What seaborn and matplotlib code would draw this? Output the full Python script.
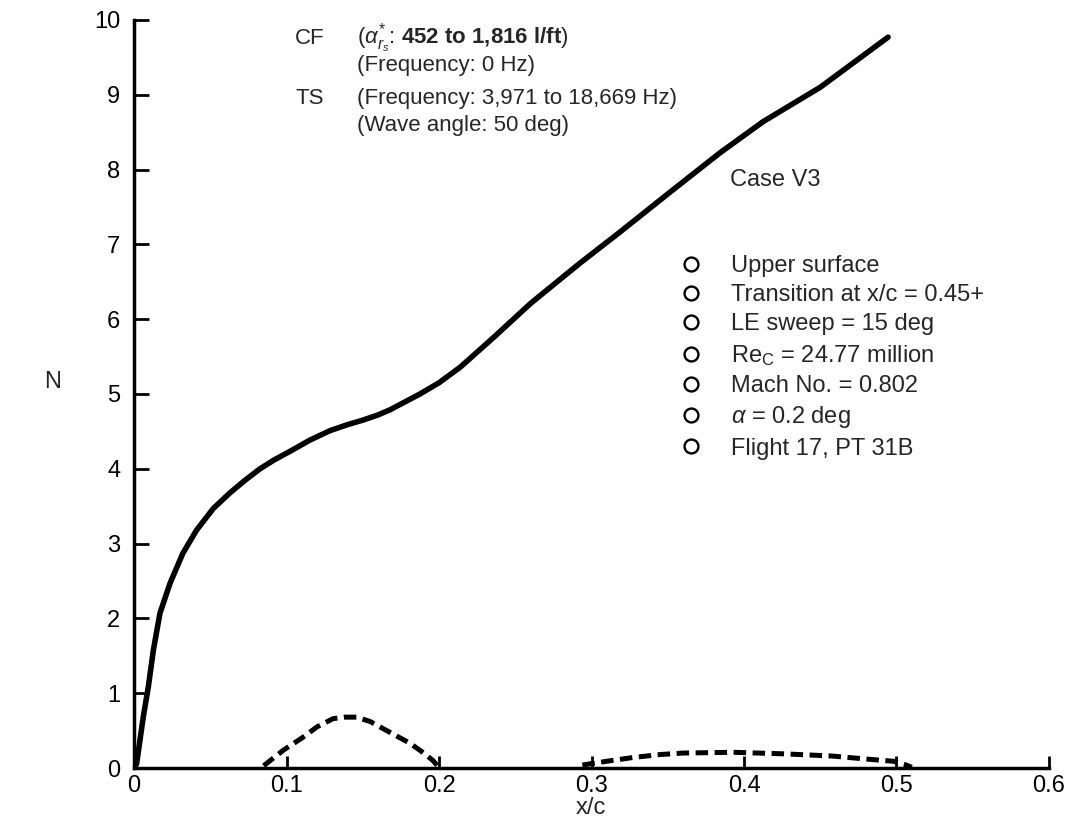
import matplotlib
matplotlib.use("Agg")
import matplotlib.pyplot as plt
from matplotlib.lines import Line2D
import seaborn as sns
import pandas as pd

# Crossflow (CF) N-factor envelope
cf_x = [0.0, 0.0017, 0.0061, 0.0094, 0.0127, 0.017, 0.0236, 0.032, 0.041, 0.052,
        0.063, 0.073, 0.0826, 0.092, 0.102, 0.115, 0.1285, 0.140, 0.150, 0.160,
        0.168, 0.181, 0.1875, 0.200, 0.214, 0.236, 0.260, 0.2925, 0.319, 0.351,
        0.384, 0.4125, 0.450, 0.4945]
cf_n = [0.0, 0.06, 0.69, 1.09, 1.58, 2.07, 2.47, 2.87, 3.18, 3.47,
        3.68, 3.85, 4.0, 4.12, 4.23, 4.38, 4.51, 4.59, 4.65, 4.72,
        4.79, 4.93, 5.0, 5.15, 5.36, 5.76, 6.21, 6.75, 7.17, 7.69,
        8.22, 8.64, 9.10, 9.77]

# Tollmien-Schlichting (TS) N-factor, first lobe
ts1_x = [0.085, 0.098, 0.110, 0.120, 0.1305, 0.138, 0.146, 0.155, 0.163, 0.172, 0.181, 0.190, 0.196, 0.199]
ts1_n = [0.03, 0.24, 0.40, 0.55, 0.66, 0.68, 0.68, 0.62, 0.53, 0.43, 0.33, 0.20, 0.10, 0.03]

# TS N-factor, second lobe
ts2_x = [0.294, 0.310, 0.327, 0.345, 0.360, 0.393, 0.4255, 0.458, 0.480, 0.498, 0.505, 0.510]
ts2_n = [0.04, 0.09, 0.14, 0.18, 0.20, 0.21, 0.19, 0.16, 0.12, 0.09, 0.05, 0.01]

x_ticks = [0, 0.1, 0.2, 0.3, 0.4, 0.5, 0.6]
x_tick_labels = ["0", "0.1", "0.2", "0.3", "0.4", "0.5", "0.6"]
y_ticks = list(range(0, 11))

case_title = "Case V3"
case_items = [
    "Upper surface",
    "Transition at x/c = 0.45+",
    "LE sweep = 15 deg",
    r"Re$_\mathregular{C}$ = 24.77 million",
    "Mach No. = 0.802",
    r"$\alpha$ = 0.2 deg",
    "Flight 17, PT 31B",
]

sns.set_style("ticks")
plt.rcParams["font.family"] = ["Liberation Sans", "DejaVu Sans"]
plt.rcParams["mathtext.fontset"] = "custom"
plt.rcParams["mathtext.rm"] = "Liberation Sans"
plt.rcParams["mathtext.it"] = "Liberation Sans:italic"
plt.rcParams["mathtext.bf"] = "Liberation Sans:bold"

fig = plt.figure(figsize=(10.75, 8.31), dpi=100)
ax = fig.add_axes([0.1247, 0.0758, 0.8511, 0.9002])

cf_df = pd.DataFrame({"x": cf_x, "N": cf_n})
ts1_df = pd.DataFrame({"x": ts1_x, "N": ts1_n})
ts2_df = pd.DataFrame({"x": ts2_x, "N": ts2_n})

sns.lineplot(data=cf_df, x="x", y="N", ax=ax, color="black", lw=4.0,
             sort=False, estimator=None, solid_joinstyle="round",
             solid_capstyle="round")
for df in (ts1_df, ts2_df):
    sns.lineplot(data=df, x="x", y="N", ax=ax, color="black", lw=3.6,
                 sort=False, estimator=None, dashes=False,
                 linestyle=(0, (2.5, 1.3)))

ax.set_xlim(0, 0.6)
ax.set_ylim(0, 10)
ax.set_xticks(x_ticks)
ax.set_xticklabels(x_tick_labels)
ax.set_yticks(y_ticks)
ax.tick_params(axis="both", direction="in", labelsize=17, width=2, colors="black")
ax.tick_params(axis="y", length=11, pad=10)
ax.tick_params(axis="x", length=9, pad=5)
for side in ("top", "right"):
    ax.spines[side].set_visible(False)
for side in ("left", "bottom"):
    ax.spines[side].set_linewidth(2.5)
    ax.spines[side].set_color("black")

ax.set_xlabel("x/c", fontsize=17, va="center")
ax.set_ylabel("N", fontsize=17, rotation=0, va="center", ha="center")
ax.xaxis.set_label_coords(0.4995, -0.0535)
ax.yaxis.set_label_coords(-0.0896, 0.516)

# Disturbance descriptions
fs_top = 16
col_a, col_b = 0.1056, 0.146
ax.text(col_a, 9.68, "CF", fontsize=fs_top, va="baseline")
ax.text(col_b, 9.68, r"($\alpha^{*}_{r_s}$: $\mathbf{452\ to\ 1{,}816\ l/ft}$)",
        fontsize=fs_top, va="baseline")
ax.text(col_b, 9.32, "(Frequency: 0 Hz)", fontsize=fs_top, va="baseline")
ax.text(col_a, 8.88, "TS", fontsize=fs_top, va="baseline")
ax.text(col_b, 8.88, "(Frequency: 3,971 to 18,669 Hz)", fontsize=fs_top, va="baseline")
ax.text(col_b, 8.52, "(Wave angle: 50 deg)", fontsize=fs_top, va="baseline")

fs_case = 17
ax.text(0.391, 7.86, case_title, fontsize=fs_case, va="center")

handles = [Line2D([], [], ls="none", marker="o", markersize=10,
                  markerfacecolor="white", markeredgecolor="black",
                  markeredgewidth=1.7) for _ in case_items]
leg = ax.legend(handles, case_items, loc="upper left",
                bbox_to_anchor=(0.598, 0.686), frameon=False, fontsize=fs_case,
                handlelength=0.8, handletextpad=1.3, labelspacing=0.31,
                borderpad=0, borderaxespad=0)

fig.savefig("out.png", dpi=100)
